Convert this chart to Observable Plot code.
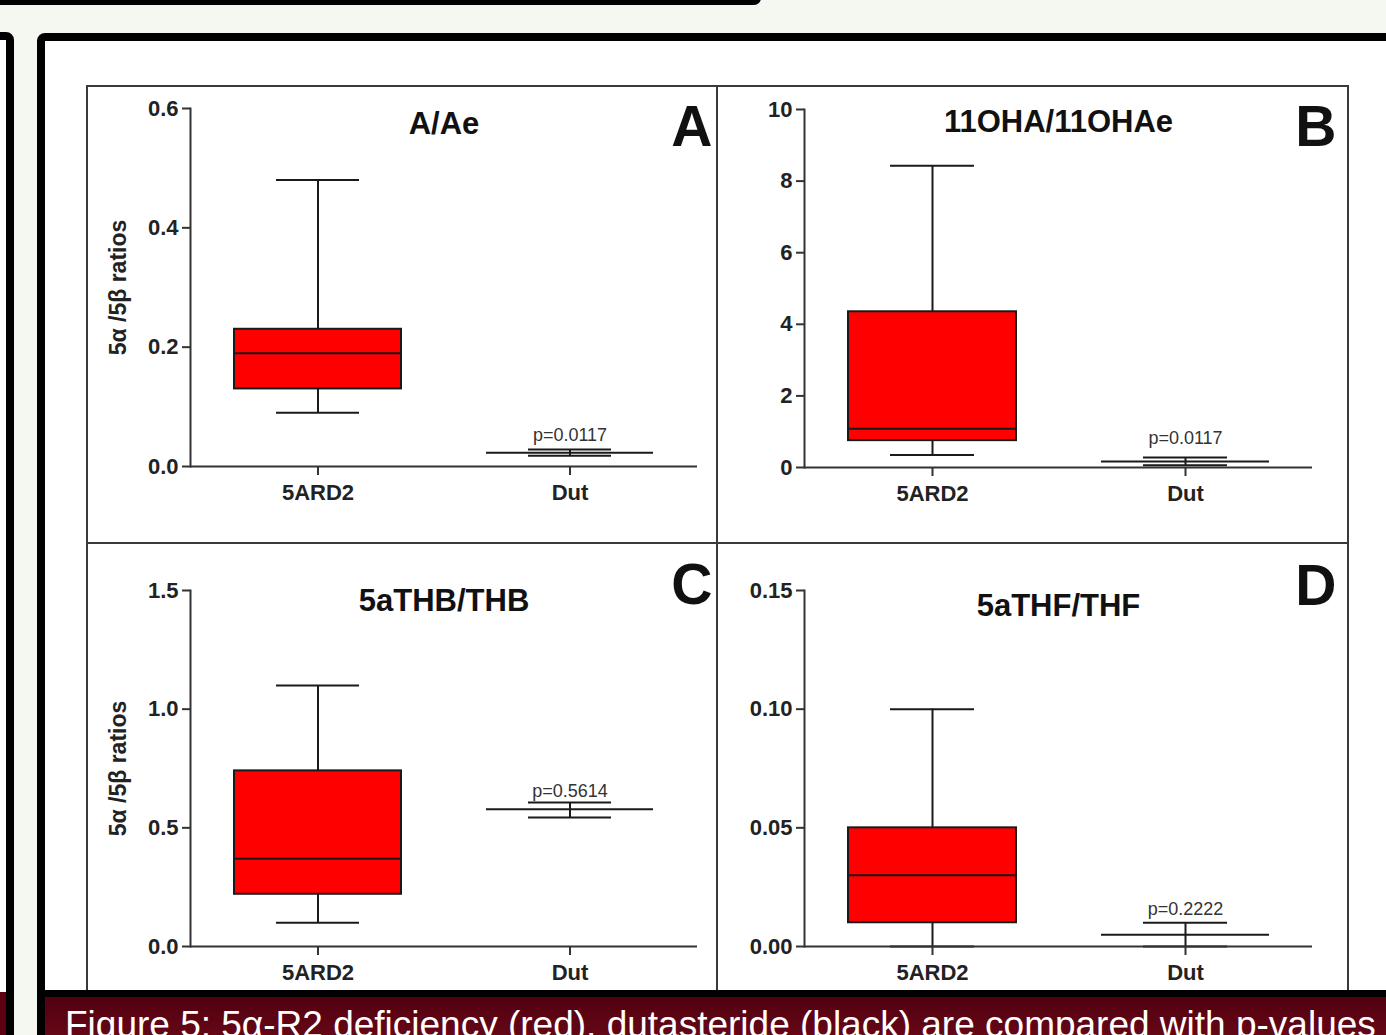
<!DOCTYPE html>
<html><head><meta charset="utf-8">
<script src="https://cdn.jsdelivr.net/npm/d3@7"></script>
<script src="https://cdn.jsdelivr.net/npm/@observablehq/plot@0.6"></script>
<style>
html,body{margin:0;padding:0;width:1386px;height:1035px;overflow:hidden;background:#f5f8f0;font-family:"Liberation Sans",Arial,sans-serif;}
.abs{position:absolute;box-sizing:border-box;}
#topbar{left:-20px;top:-30px;width:781px;height:35px;border:5px solid #000;border-radius:0 0 7px 0;background:#f5f8f0;}
#leftbox{left:-30px;top:32px;width:44px;height:1100px;border:8px solid #000;border-radius:0 8px 0 0;background:#fff;}
#leftcap{left:-30px;top:992px;width:36px;height:60px;background:#5c0012;}
#mainbox{left:37px;top:33px;width:1400px;height:1100px;border:8px solid #000;border-radius:8px 0 0 0;background:#fff;}
#grid{left:86px;top:85px;width:1263px;height:1000px;border:2px solid #3a3a3a;}
#vdiv{left:716px;top:85px;width:2px;height:1000px;background:#3a3a3a;}
#hdiv{left:86px;top:542px;width:1263px;height:2px;background:#3a3a3a;}
.panel{position:absolute;width:630px;height:457px;}
#caption{left:45px;top:990px;width:1400px;height:60px;border-top:7px solid #000;background:linear-gradient(#520010,#6c0a18);overflow:hidden;}
#captext{position:absolute;left:20px;top:8px;color:#fff;font-size:37px;line-height:40px;white-space:nowrap;}
g[aria-label="y-axis label"] text{font-size:23px;}
</style></head><body>
<div id="topbar" class="abs"></div>
<div id="leftbox" class="abs"></div>
<div id="leftcap" class="abs"></div>
<div id="mainbox" class="abs"></div>
<div id="grid" class="abs"></div>
<div id="vdiv" class="abs"></div>
<div id="hdiv" class="abs"></div>
<div id="pA" class="panel" style="left:87px;top:86px"></div>
<div id="pB" class="panel" style="left:717px;top:86px"></div>
<div id="pC" class="panel" style="left:87px;top:543px"></div>
<div id="pD" class="panel" style="left:717px;top:543px"></div>
<div id="caption" class="abs"><span id="captext">Figure 5: 5α-R2 deficiency (red), dutasteride (black) are compared with p-values</span></div>
<script>
// ---- data ----
const groups = ["5ARD2", "Dut"];
const panelIds = ["A", "B", "C", "D"];
const titles = ["A/Ae", "11OHA/11OHAe", "5aTHB/THB", "5aTHF/THF"];
const pValues = ["p=0.0117", "p=0.0117", "p=0.5614", "p=0.2222"];
// each entry: [5ARD2, Dut]
const whiskerMin = [[0.09, 0.018], [0.35, 0.06], [0.10, 0.544], [0.0, 0.0]];
const q1Values   = [[0.13, 0.023], [0.75, 0.17], [0.22, 0.578], [0.01, 0.005]];
const medians    = [[0.19, 0.023], [1.08, 0.17], [0.37, 0.578], [0.03, 0.005]];
const q3Values   = [[0.23, 0.023], [4.35, 0.17], [0.74, 0.578], [0.05, 0.005]];
const whiskerMax = [[0.48, 0.0285], [8.43, 0.28], [1.10, 0.607], [0.10, 0.01]];
const yTicks = [[0, 0.2, 0.4, 0.6], [0, 2, 4, 6, 8, 10], [0, 0.5, 1.0, 1.5], [0, 0.05, 0.10, 0.15]];
const yTickDecimals = [1, 0, 1, 2];
const yLabel = "5α /5β ratios";

// ---- layout (positions/styles only) ----
const layout = [
  {ml: 103, mr: 20, mt: 22, mb: 77, titleDy: 16, letterDx: 15, letterDy: 19, pDy: -14, showLabel: true},
  {ml: 87, mr: 35, mt: 23, mb: 76, titleDy: 13, letterDx: 24, letterDy: 18, pDy: -19, showLabel: false},
  {ml: 103, mr: 20, mt: 47, mb: 54, titleDy: 11, letterDx: 15, letterDy: -5, pDy: -11, showLabel: true},
  {ml: 87, mr: 35, mt: 47, mb: 54, titleDy: 16, letterDx: 24, letterDy: -4, pDy: -14, showLabel: false}
];
const INK = "#1a1a1a";

function panel(i) {
  const L = layout[i];
  const rows = groups.map((g, j) => ({
    group: g, lo: whiskerMin[i][j], q1: q1Values[i][j], med: medians[i][j],
    q3: q3Values[i][j], hi: whiskerMax[i][j]
  }));
  const ticks = yTicks[i];
  return Plot.plot({
    width: 630, height: 457,
    marginLeft: L.ml, marginRight: L.mr, marginTop: L.mt, marginBottom: L.mb,
    style: {fontFamily: "'Liberation Sans', Arial, sans-serif", fontSize: "22px", fontWeight: "bold",
            color: "#222", background: "transparent", overflow: "visible"},
    x: {type: "band", domain: groups, paddingInner: 0.336, paddingOuter: 0.17},
    y: {domain: [ticks[0], ticks[ticks.length - 1]]},
    marks: [
      Plot.ruleX(rows, {x: "group", y1: "lo", y2: "hi", stroke: INK, strokeWidth: 2}),
      Plot.tickY(rows, {x: "group", y: "lo", stroke: INK, strokeWidth: 2, insetLeft: 42, insetRight: 42}),
      Plot.tickY(rows, {x: "group", y: "hi", stroke: INK, strokeWidth: 2, insetLeft: 42, insetRight: 42}),
      Plot.barY(rows, {x: "group", y1: "q1", y2: "q3", fill: "#ff0000", stroke: INK, strokeWidth: 2}),
      Plot.tickY(rows, {x: "group", y: "med", stroke: INK, strokeWidth: 2}),
      Plot.axisY({ticks, tickFormat: d3.format(`.${yTickDecimals[i]}f`), tickSize: 8, tickPadding: 4,
                  stroke: "#333", strokeWidth: 2,
                  label: L.showLabel ? yLabel : null, labelAnchor: "center", labelArrow: false, labelOffset: 81}),
      Plot.axisX({tickSize: 9, tickPadding: 9, stroke: "#333", strokeWidth: 2, label: null}),
      Plot.frame({anchor: "left", stroke: "#333", strokeWidth: 2}),
      Plot.ruleY([ticks[0]], {stroke: "#333", strokeWidth: 2}),
      Plot.text([titles[i]], {frameAnchor: "top", lineAnchor: "middle", dy: L.titleDy, fontSize: 31, fontWeight: "bold", fill: "#111"}),
      Plot.text([panelIds[i]], {frameAnchor: "top-right", lineAnchor: "middle", textAnchor: "end", dx: L.letterDx, dy: L.letterDy,
                                fontSize: 57, fontWeight: "bold", fill: "#111"}),
      Plot.text([rows[1]], {x: "group", y: "hi", text: () => pValues[i], dy: L.pDy,
                            fontSize: 18, fontWeight: "normal", fill: "#333"})
    ]
  });
}
["pA", "pB", "pC", "pD"].forEach((id, i) => document.getElementById(id).appendChild(panel(i)));
</script>
</body></html>
